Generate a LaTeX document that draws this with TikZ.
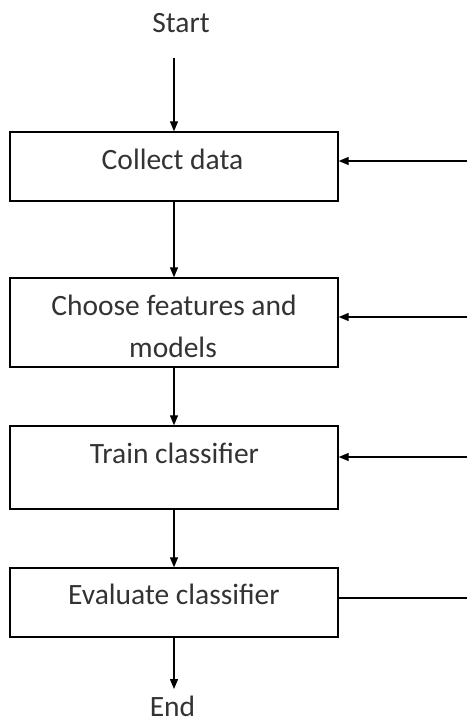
\documentclass[tikz,border=0pt]{standalone}
\usepackage{fontspec}
\setmainfont{Carlito}
\usetikzlibrary{arrows.meta}
\begin{document}
\begin{tikzpicture}[x=1pt,y=-1pt,
  box/.style={draw=black,line width=1.4pt,minimum width=328pt,inner sep=0pt},
  lbl/.style={anchor=base,inner sep=0pt,text=black!80,font=\fontsize{29.5}{43}\selectfont},
  arr/.style={draw=black,line width=1.3pt,-{Triangle[length=10pt,width=8pt]}},
  ln/.style={draw=black,line width=1.3pt}]
\useasboundingbox (0,0) rectangle (467,722);
% boxes
\node[box,minimum height=69pt] (b1) at (174,166.5) {};
\node[box,minimum height=89pt] (b2) at (174,322.5) {};
\node[box,minimum height=83pt] (b3) at (174,467.5) {};
\node[box,minimum height=69pt] (b4) at (174,602.5) {};
% texts
\node[lbl] (tstart) at (181,33) {Start};
\node[lbl] (t1) at (172.5,170) {Collect data};
\node[lbl] (t2a) at (174,315) {Choose features and};
\node[lbl] (t2b) at (173,357) {models};
\node[lbl] (t3) at (174.5,463) {Train classifier};
\node[lbl] (t4) at (174,604) {Evaluate classifier};
\node[lbl] (tend) at (172.5,716) {End};
% coordinates
\coordinate (s0) at (174,58);
\coordinate (e0) at (174,689);
\coordinate (r1) at (467,161);
\coordinate (r2) at (467,317);
\coordinate (r3) at (467,457);
\coordinate (r4) at (467,598);
% vertical arrows
\draw[arr] (s0) -- (b1.north);
\draw[arr] (b1.south) -- (b2.north);
\draw[arr] (b2.south) -- (b3.north);
\draw[arr] (b3.south) -- (b4.north);
\draw[arr] (b4.south) -- (e0);
% feedback arrows
\draw[arr] (r1) -- (r1 -| b1.east);
\draw[arr] (r2) -- (r2 -| b2.east);
\draw[arr] (r3) -- (r3 -| b3.east);
\draw[ln] (r4 -| b4.east) -- (r4);
\end{tikzpicture}
\end{document}
